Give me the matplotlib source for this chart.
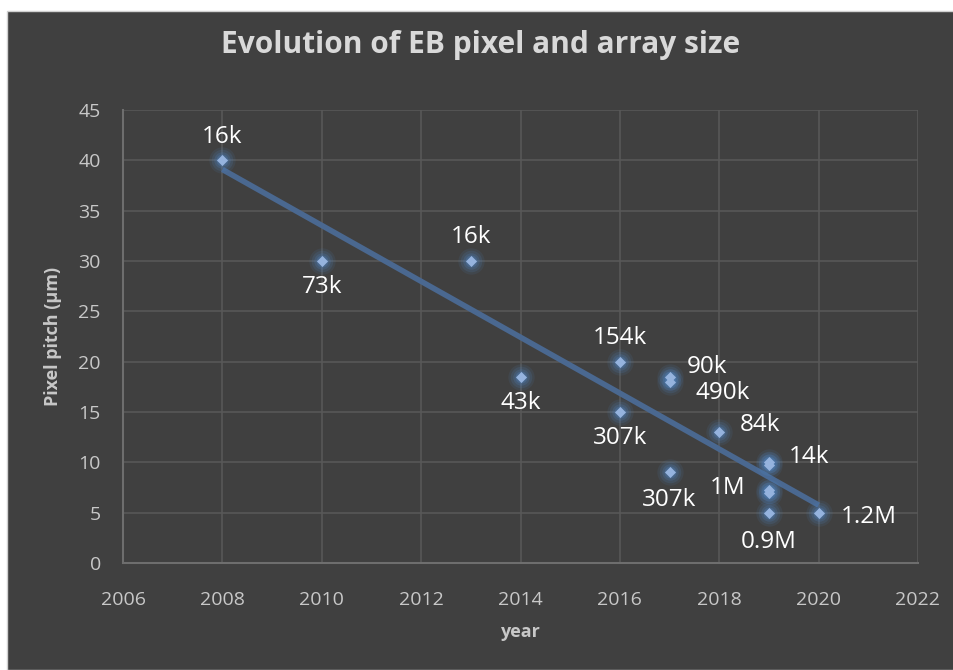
import matplotlib.pyplot as plt
import numpy as np
from matplotlib.patches import Rectangle

# pixel pitch (um) per year, with array size of each sensor
years = [2008, 2010, 2013, 2014, 2016, 2016, 2017, 2017, 2017, 2018, 2019, 2019, 2019, 2019, 2019, 2020]
pitch = [40, 30, 30, 18.5, 20, 15, 18.5, 18, 9, 13, 10, 9.7, 7.3, 7, 5, 5]
sizes = ['16k', '73k', '16k', '43k', '154k', '307k', '90k', '490k', '307k', '84k', '14k', '', '', '1M', '0.9M', '1.2M']

# where each label sits relative to its point (offset in points)
label_offsets = [(0, 17), (0, -19), (0, 17), (0, -19), (0, 17), (0, -19), (27, 7), (38, -8), (0, -20),
                 (29, 5), (29, 4), (0, 0), (0, 0), (-30, 3), (0, -21), (36, -3)]

bg = '#404040'
fig = plt.figure(figsize=(9.54, 6.70), dpi=100, facecolor='white')
fig.patches.append(Rectangle((7 / 954, 0), 1, (670 - 11) / 670, transform=fig.transFigure,
                             facecolor=bg, edgecolor='#d0d0d0', linewidth=1, zorder=-5))

ax = fig.add_axes([123 / 954, 1 - 563 / 670, (918 - 123) / 954, (563 - 110) / 670])
ax.set_facecolor(bg)
ax.set_xlim(2006, 2022)
ax.set_ylim(0, 45)
ax.set_xticks(range(2006, 2023, 2))
ax.set_yticks(range(0, 46, 5))
ax.grid(True, color='#585858', linewidth=1.2)
ax.set_axisbelow(True)
for s in ['top', 'right']:
    ax.spines[s].set_visible(False)
for s in ['left', 'bottom']:
    ax.spines[s].set_color('#6e6e6e')
    ax.spines[s].set_linewidth(1.5)
ax.tick_params(axis='x', length=0, pad=20, labelsize=14, labelcolor='#c8c8c8')
ax.tick_params(axis='y', length=0, pad=16, labelsize=14, labelcolor='#c8c8c8')
for lab in ax.get_xticklabels() + ax.get_yticklabels():
    lab.set_family('Open Sans')

# glowing markers
x = np.array(years)
y = np.array(pitch)
for sz, a in [(360, 0.11), (240, 0.16), (140, 0.22), (75, 0.32)]:
    ax.scatter(x, y, s=sz, color='#4f81bd', alpha=a, linewidths=0, zorder=3)
ax.scatter(x, y, s=32, marker='D', color='#95b3de', linewidths=0, zorder=4)

# linear trend line
k, b = np.polyfit(x, y, 1)
tx = np.array([x.min(), x.max()])
ax.plot(tx, k * tx + b, color='#4a6890', linewidth=4, solid_capstyle='butt', zorder=2)

for xi, yi, t, off in zip(years, pitch, sizes, label_offsets):
    if t:
        ax.annotate(t, (xi, yi), xytext=off, textcoords='offset points', ha='center', va='center',
                    fontsize=17.5, color='white', family='Open Sans', zorder=5)

fig.text(0.5 + 4 / 954, 1 - 45 / 670, 'Evolution of EB pixel and array size', ha='center', va='center',
         fontsize=21.5, fontweight='bold', color='#d9d9d9', family='Open Sans')
ax.set_xlabel('year', fontsize=13, fontweight='bold', color='#c8c8c8', family='Open Sans', labelpad=10)
ax.set_ylabel('Pixel pitch (µm)', fontsize=13, fontweight='bold', color='#c8c8c8', family='Open Sans', labelpad=12)

fig.savefig('out.png', dpi=100, facecolor='white')
